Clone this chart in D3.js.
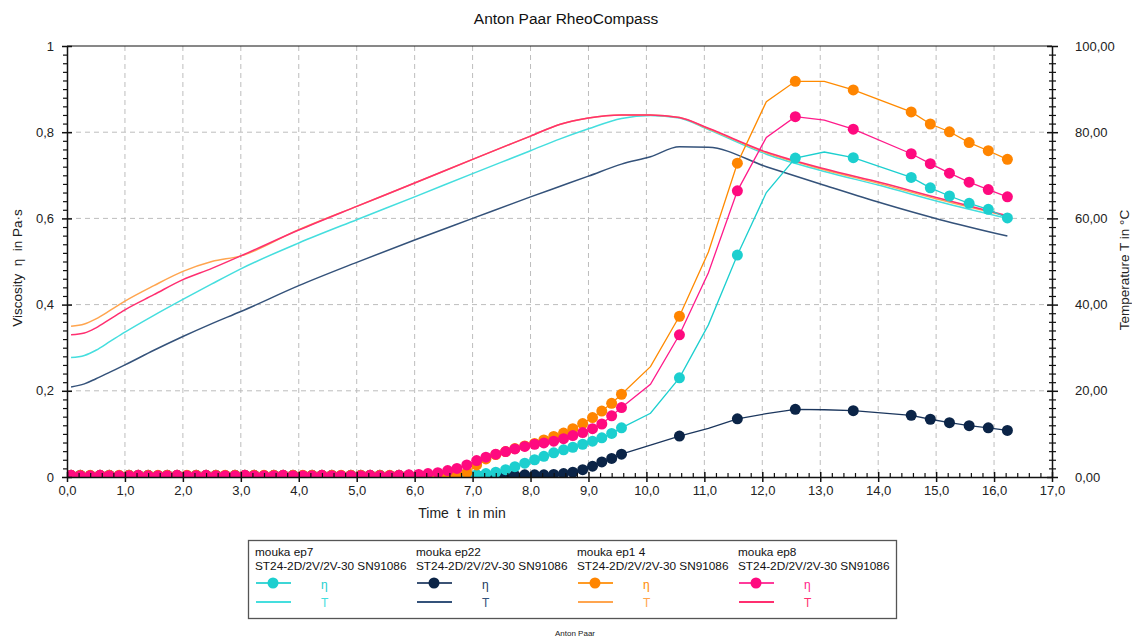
<!DOCTYPE html>
<html>
<head>
<meta charset="utf-8">
<script src="https://cdn.jsdelivr.net/npm/d3@7"></script>
<style>
  html, body { margin: 0; padding: 0; background: #fff; }
  svg { display: block; font-family: "Liberation Sans", Arial, sans-serif; }
</style>
</head>
<body>
<svg id="chart" width="1132" height="643"></svg>
<script>
// ---------------- DATA ----------------
const title = "Anton Paar RheoCompass";
const xTicks = [0,1,2,3,4,5,6,7,8,9,10,11,12,13,14,15,16,17];
const yLeftTicks = [0, 0.2, 0.4, 0.6, 0.8, 1];
const yRightTicks = [0, 20, 40, 60, 80, 100];
const seriesNames = ["mouka ep7", "mouka ep22", "mouka ep1 4", "mouka ep8"];
const instrument = "ST24-2D/2V/2V-30 SN91086";

// viscosity sample times (min)
const etaTime = [
  0.07,0.23,0.40,0.57,0.73,0.90,
  1.07,1.23,1.40,1.57,1.73,1.90,
  2.07,2.23,2.40,2.57,2.73,2.90,
  3.07,3.23,3.40,3.57,3.73,3.90,
  4.07,4.23,4.40,4.57,4.73,4.90,
  5.07,5.23,5.40,5.57,5.73,5.90,
  6.07,6.23,6.40,6.57,6.73,6.90,
  7.07,7.23,7.40,7.57,7.73,7.90,
  8.07,8.23,8.40,8.57,8.73,8.90,
  9.07,9.23,9.40,9.57,
  10.07,10.57,11.07,11.57,12.07,12.57,13.07,13.57,14.57,14.90,15.23,15.57,15.90,16.23
];
// 1 = point drawn with a marker
const etaMarked = [
  1,1,1,1,1,1, 1,1,1,1,1,1, 1,1,1,1,1,1, 1,1,1,1,1,1, 1,1,1,1,1,1,
  1,1,1,1,1,1, 1,1,1,1,1,1, 1,1,1,1,1,1, 1,1,1,1,1,1, 1,1,1,1,
  0,1,0,1,0,1,0,1,1,1,1,1,1,1
];
const etaEp7 = [
  0.003,0.003,0.003,0.003,0.003,0.003,
  0.003,0.003,0.003,0.003,0.003,0.003,
  0.003,0.003,0.003,0.003,0.003,0.003,
  0.003,0.003,0.003,0.003,0.003,0.003,
  0.003,0.003,0.003,0.003,0.003,0.003,
  0.003,0.003,0.003,0.003,0.003,0.003,
  0.003,0.003,0.003,0.003,0.003,0.004,
  0.005,0.008,0.011,0.017,0.024,0.032,
  0.040,0.048,0.056,0.063,0.069,0.076,
  0.083,0.091,0.101,0.114,
  0.148,0.230,0.353,0.515,0.660,0.740,0.754,0.741,0.695,0.671,0.652,0.635,0.621,0.601
];
const etaEp22 = [
  0.004,0.004,0.003,0.004,0.004,0.003,
  0.004,0.004,0.004,0.003,0.004,0.004,
  0.003,0.004,0.004,0.004,0.003,0.004,
  0.004,0.004,0.003,0.004,0.004,0.004,
  0.003,0.004,0.004,0.004,0.003,0.004,
  0.004,0.004,0.004,0.003,0.004,0.004,
  0.004,0.004,0.004,0.004,0.004,0.004,
  0.004,0.004,0.004,0.005,0.004,0.005,
  0.005,0.005,0.006,0.008,0.011,0.017,
  0.025,0.035,0.043,0.053,
  0.074,0.095,0.113,0.135,0.147,0.157,0.156,0.154,0.143,0.134,0.126,0.119,0.114,0.108
];
const etaEp14 = [
  0.004,0.004,0.004,0.004,0.004,0.004,
  0.004,0.004,0.004,0.004,0.004,0.004,
  0.004,0.004,0.004,0.004,0.004,0.004,
  0.004,0.004,0.004,0.004,0.004,0.004,
  0.004,0.004,0.004,0.004,0.004,0.004,
  0.004,0.004,0.004,0.004,0.004,0.004,
  0.004,0.004,0.004,0.004,0.006,0.010,
  0.028,0.042,0.052,0.059,0.066,0.072,
  0.078,0.086,0.094,0.102,0.112,0.124,
  0.138,0.153,0.171,0.192,
  0.256,0.373,0.522,0.728,0.871,0.918,0.918,0.898,0.847,0.819,0.801,0.776,0.757,0.737
];
const etaEp8 = [
  0.004,0.003,0.003,0.004,0.003,0.003,
  0.003,0.004,0.003,0.003,0.003,0.004,
  0.003,0.003,0.004,0.003,0.003,0.003,
  0.004,0.003,0.003,0.003,0.004,0.003,
  0.003,0.003,0.004,0.003,0.003,0.003,
  0.003,0.004,0.003,0.003,0.004,0.005,
  0.006,0.008,0.010,0.015,0.020,0.028,
  0.038,0.046,0.053,0.059,0.065,0.071,
  0.076,0.079,0.083,0.089,0.096,0.103,
  0.112,0.123,0.142,0.161,
  0.215,0.330,0.474,0.664,0.788,0.836,0.828,0.807,0.750,0.727,0.705,0.684,0.667,0.650
];

// temperature sample times (min) and values (°C)
const tempTime = [0.07,0.3,0.5,0.75,1,1.5,2,2.5,3,4,5,6,7,8,8.5,9,9.57,10.07,10.57,11.07,12.07,13.07,14.07,15.07,16.23];
const tempEp7  = [27.7,28.2,29.4,31.5,33.6,37.5,41.2,44.8,48.3,54.3,59.7,65.0,70.4,75.7,78.4,80.8,83.2,83.9,83.3,80.6,74.9,70.9,67.5,63.8,60.0];
const tempEp22 = [20.9,21.6,22.8,24.4,26.0,29.4,32.6,35.6,38.4,44.4,49.8,55.0,60.0,65.0,67.4,69.8,72.6,74.3,76.6,76.5,72.0,67.7,63.5,59.7,55.9];
const tempEp14 = [35.0,35.5,36.7,38.7,40.8,44.4,47.7,50.0,51.3,57.4,62.8,68.2,73.7,79.1,81.8,83.3,84.0,84.0,83.4,80.8,75.2,71.3,67.9,64.3,60.5];
const tempEp8  = [33.0,33.4,34.6,36.7,38.8,42.3,45.8,48.4,51.3,57.3,62.8,68.2,73.7,79.1,81.8,83.3,84.0,84.0,83.4,80.9,75.4,71.5,68.2,64.6,60.6];

// ---------------- STYLE ----------------
const styles = [
  { eta: "#1ccfcf", marker: "#1ccfcf", temp: "#45dede" },  // ep7
  { eta: "#1b365d", marker: "#0b2447", temp: "#34527a" },  // ep22
  { eta: "#ff8a00", marker: "#ff8500", temp: "#ffa54f" },  // ep1 4
  { eta: "#ff1a8a", marker: "#ff0a7f", temp: "#ff2f70" }   // ep8
];
const etaSeries = [etaEp7, etaEp22, etaEp14, etaEp8];
const tempSeries = [tempEp7, tempEp22, tempEp14, tempEp8];

const svg = d3.select("#chart");
const M = { left: 67, right: 1052, top: 46, bottom: 477 };
const W = M.right - M.left, H = M.bottom - M.top;

const x = d3.scaleLinear().domain([0, 17]).range([M.left, M.right]);
const yL = d3.scaleLinear().domain([0, 1]).range([M.bottom, M.top]);
const yR = d3.scaleLinear().domain([0, 100]).range([M.bottom, M.top]);
const comma = s => s.replace(".", ",");

// title
svg.append("text").attr("x", 566).attr("y", 24).attr("text-anchor", "middle")
  .attr("font-size", 15.5).attr("fill", "#111").text(title);

// grid
const grid = svg.append("g").attr("stroke", "#bdbdbd").attr("stroke-dasharray", "5,4").attr("stroke-width", 1);
xTicks.filter(v => v > 0 && v < 17).forEach(v => {
  grid.append("line").attr("x1", x(v)).attr("x2", x(v)).attr("y1", M.top).attr("y2", M.bottom);
});
yLeftTicks.filter(v => v > 0 && v < 1).forEach(v => {
  grid.append("line").attr("x1", M.left).attr("x2", M.right).attr("y1", yL(v)).attr("y2", yL(v));
});

// clip
svg.append("defs").append("clipPath").attr("id", "plotclip")
  .append("rect").attr("x", M.left).attr("y", M.top).attr("width", W).attr("height", H);
const plot = svg.append("g").attr("clip-path", "url(#plotclip)");

// temperature lines
const tLine = d3.line().x(d => x(d[0])).y(d => yR(d[1])).curve(d3.curveMonotoneX);
[1, 0, 2, 3].forEach(i => {
  const pts = tempTime.map((t, j) => [t, tempSeries[i][j]]);
  plot.append("path").attr("d", tLine(pts)).attr("fill", "none")
    .attr("stroke", styles[i].temp).attr("stroke-width", 1.5);
});

// viscosity lines + markers
const eLine = d3.line().x(d => x(d[0])).y(d => yL(d[1]));
[1, 0, 2, 3].forEach(i => {
  const pts = etaTime.map((t, j) => [t, etaSeries[i][j], etaMarked[j]]);
  plot.append("path").attr("d", eLine(pts)).attr("fill", "none")
    .attr("stroke", styles[i].eta).attr("stroke-width", 1.3);
  plot.append("g").selectAll("circle").data(pts.filter(p => p[2] === 1)).join("circle")
    .attr("cx", d => x(d[0])).attr("cy", d => yL(d[1])).attr("r", 5.5)
    .attr("fill", styles[i].marker);
});

// frame
const frame = svg.append("g").attr("stroke", "#111").attr("stroke-width", 1.5).attr("fill", "none");
frame.append("line").attr("x1", M.left).attr("x2", M.right).attr("y1", M.top).attr("y2", M.top).attr("stroke-width", 1);

// axes
function styleAxis(g) {
  g.selectAll("text").attr("font-family", "Liberation Sans, Arial, sans-serif").attr("font-size", 13).attr("fill", "#222");
  g.selectAll("line").attr("stroke", "#111");
  g.select(".domain").attr("stroke", "#111").attr("stroke-width", 1.5);
}
// bottom
const minorX = d3.range(0, 85).map(i => i * 0.2).filter(v => Math.abs(v - Math.round(v)) > 1e-6);
svg.append("g").attr("transform", `translate(0,${M.bottom})`)
  .call(d3.axisBottom(x).tickValues(minorX).tickSize(-4).tickSizeOuter(0).tickFormat(""))
  .call(g => { g.select(".domain").remove(); g.selectAll("line").attr("stroke", "#111").attr("stroke-width", 1.2); });
svg.append("g").attr("transform", `translate(0,${M.bottom})`)
  .call(d3.axisBottom(x).tickValues(xTicks).tickSize(5).tickSizeOuter(0).tickPadding(4)
    .tickFormat(d => comma(d3.format(".1f")(d))))
  .call(styleAxis)
  .call(g => g.selectAll(".tick line").attr("y1", -5).attr("stroke-width", 1.5));

// left
const minorY = d3.range(0, 51).map(i => i * 0.02).filter(v => Math.abs(v * 5 - Math.round(v * 5)) > 1e-6);
svg.append("g").attr("transform", `translate(${M.left},0)`)
  .call(d3.axisLeft(yL).tickValues(minorY).tickSize(4).tickSizeOuter(0).tickFormat(""))
  .call(g => { g.select(".domain").remove(); g.selectAll("line").attr("stroke", "#111").attr("stroke-width", 1.2).attr("x2", -4).attr("x1", 1); });
svg.append("g").attr("transform", `translate(${M.left},0)`)
  .call(d3.axisLeft(yL).tickValues(yLeftTicks).tickSize(5).tickSizeOuter(0).tickPadding(8)
    .tickFormat(d => d === 0 || d === 1 ? String(d) : comma(d3.format(".1f")(d))))
  .call(styleAxis)
  .call(g => g.selectAll(".tick line").attr("x1", 5).attr("stroke-width", 1.5));

// right
const minorR = d3.range(0, 51).map(i => i * 2).filter(v => v % 20 !== 0);
svg.append("g").attr("transform", `translate(${M.right},0)`)
  .call(d3.axisRight(yR).tickValues(minorR).tickSize(4).tickSizeOuter(0).tickFormat(""))
  .call(g => { g.select(".domain").remove(); g.selectAll("line").attr("stroke", "#111").attr("stroke-width", 1.2).attr("x1", -3); });
svg.append("g").attr("transform", `translate(${M.right},0)`)
  .call(d3.axisRight(yR).tickValues(yRightTicks).tickSize(6).tickSizeOuter(0).tickPadding(17)
    .tickFormat(d => comma(d3.format(".2f")(d))))
  .call(styleAxis)
  .call(g => g.selectAll(".tick line").attr("x1", -5).attr("stroke-width", 1.5));

// axis titles
svg.append("text").attr("x", 462).attr("y", 518).attr("text-anchor", "middle")
  .attr("font-size", 14).attr("fill", "#222").attr("xml:space", "preserve").text("Time  t  in min");
svg.append("text").attr("transform", "translate(22,268) rotate(-90)").attr("text-anchor", "middle")
  .attr("font-size", 13.5).attr("fill", "#222").attr("xml:space", "preserve").text("Viscosity  η  in Pa·s");
svg.append("text").attr("transform", "translate(1129,270) rotate(-90)").attr("text-anchor", "middle")
  .attr("font-size", 13.5).attr("fill", "#222").text("Temperature T in °C");

// legend
const lg = svg.append("g");
lg.append("rect").attr("x", 248.5).attr("y", 540.5).attr("width", 648).attr("height", 78)
  .attr("fill", "#fff").attr("stroke", "#555").attr("stroke-width", 1.3);
const colX = [255, 416, 577, 738];
seriesNames.forEach((name, i) => {
  const g = lg.append("g").attr("transform", `translate(${colX[i]},0)`);
  g.append("text").attr("x", 0).attr("y", 556).attr("font-size", 11.8).attr("fill", "#111").text(name);
  g.append("text").attr("x", 0).attr("y", 570).attr("font-size", 11.8).attr("fill", "#111").text(instrument);
  g.append("line").attr("x1", 1).attr("x2", 36).attr("y1", 583).attr("y2", 583)
    .attr("stroke", styles[i].eta).attr("stroke-width", 2).attr("opacity", 0.85);
  g.append("circle").attr("cx", 18).attr("cy", 583).attr("r", 5.5).attr("fill", styles[i].marker);
  g.append("text").attr("x", 66).attr("y", 589).attr("font-size", 12).attr("fill", styles[i].eta).text("η");
  g.append("line").attr("x1", 1).attr("x2", 36).attr("y1", 602).attr("y2", 602)
    .attr("stroke", styles[i].temp).attr("stroke-width", 2);
  g.append("text").attr("x", 66).attr("y", 607).attr("font-size", 12).attr("fill", styles[i].temp).text("T");
});

// footer
svg.append("text").attr("x", 575).attr("y", 636).attr("text-anchor", "middle")
  .attr("font-size", 8).attr("fill", "#222").text("Anton Paar");
</script>
</body>
</html>
